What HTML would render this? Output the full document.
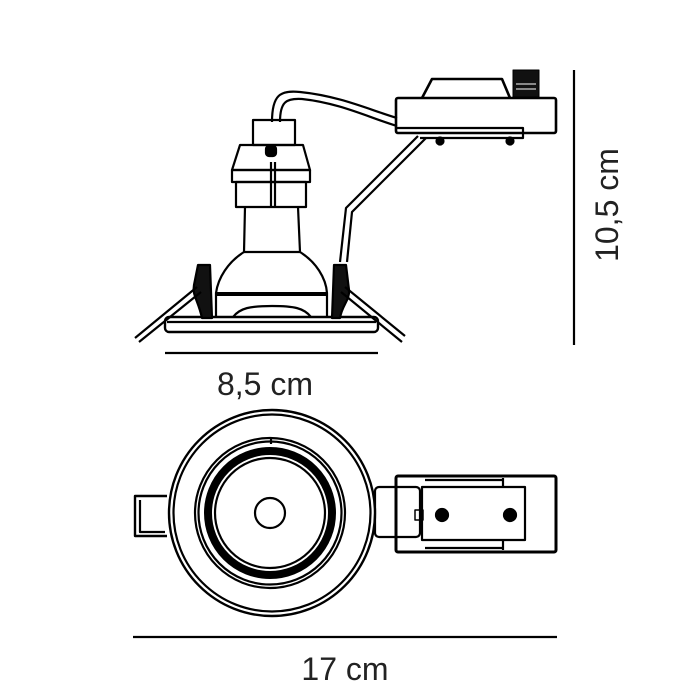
<!DOCTYPE html>
<html><head><meta charset="utf-8"><style>
html,body{margin:0;padding:0;background:#fff;}
svg{display:block;}
text{font-family:"Liberation Sans",sans-serif;fill:#222;}
</style></head><body>
<svg width="690" height="690" viewBox="0 0 690 690" xmlns="http://www.w3.org/2000/svg" fill="none" stroke="#000" stroke-width="2.2" stroke-linejoin="round">
<!-- TOP VIEW -->
<!-- wire -->
<path d="M272 122 C272 95 280 90 300 92 C340 96 370 110 397 118"/>
<path d="M280 122 C280 102 286 98 302 99 C340 103 370 118 397 126"/>
<!-- driver box -->
<rect x="396" y="98" width="160" height="35" rx="2" stroke-width="2.6"/>
<path d="M422 98 L432 79 L502 79 L510 98" stroke-width="2.6"/>
<rect x="513" y="70" width="26" height="27" fill="#111" stroke-width="1"/>
<line x1="516" y1="84" x2="536" y2="84" stroke="#fff" stroke-width="1"/>
<line x1="516" y1="89" x2="536" y2="89" stroke="#fff" stroke-width="1"/>
<path d="M397 128 L523 128 L523 138 L420 138"/>
<circle cx="440" cy="141" r="3.5" fill="#000"/>
<circle cx="510" cy="141" r="3.5" fill="#000"/>
<!-- bracket -->
<path d="M418 136 L346 208 L340 262"/>
<path d="M426 138 L352 212 L347 262"/>
<!-- socket -->
<rect x="253" y="120" width="42" height="25"/>
<rect x="266" y="146" width="10" height="10" rx="3" fill="#000"/>
<path d="M240 145 L303 145 L310 170 L232 170 Z"/>
<rect x="232" y="170" width="78" height="12"/>
<rect x="236" y="182" width="70" height="25"/>
<line x1="271" y1="162" x2="271" y2="207"/><line x1="275" y1="162" x2="275" y2="207"/>
<!-- neck -->
<path d="M245 207 L244 252 M298 207 L300 252"/>
<path d="M244 252 C228 262 218 278 216 293 L216 317 M300 252 C316 262 326 278 327 293 L327 317"/>
<line x1="244" y1="252" x2="300" y2="252"/>
<rect x="216" y="292" width="111" height="4" fill="#000" stroke="none"/>
<path d="M233 317 C240 308 250 306 272 306 C294 306 304 308 311 317"/>
<!-- flange -->
<rect x="165" y="317" width="213" height="15" rx="4" stroke-width="2.4"/>
<line x1="167" y1="322" x2="376" y2="322"/>
<!-- clips -->
<path d="M198 265 L210 265 L212 318 L202 318 C198 300 192 295 194 285 Z" fill="#111"/>
<path d="M334 265 L346 265 L349 290 C350 300 342 305 340 318 L332 318 Z" fill="#111"/>
<!-- spring arms -->
<path d="M197 287 L135 338 M201 292 L139 342"/>
<path d="M345 287 L405 336 M341 292 L402 342"/>
<!-- dimension lines -->
<line x1="165" y1="353" x2="378" y2="353"/>
<line x1="574" y1="70" x2="574" y2="345"/>
<text x="265" y="395" font-size="32" text-anchor="middle" stroke="none">8,5 cm</text>
<text transform="translate(618,205) rotate(-90)" font-size="32" text-anchor="middle" stroke="none">10,5 cm</text>
<!-- BOTTOM VIEW -->
<path d="M167 496 L135 496 L135 536 L167 536" stroke-width="2.4"/>
<path d="M140 500 L140 532 L165 532"/>
<rect x="375" y="487" width="45" height="50" rx="4"/>
<rect x="396" y="476" width="160" height="76" rx="2" stroke-width="3"/>
<rect x="422" y="487" width="103" height="53"/>
<line x1="425" y1="480" x2="503" y2="480"/><line x1="425" y1="548" x2="503" y2="548"/>
<line x1="503" y1="478" x2="503" y2="487"/><line x1="503" y1="540" x2="503" y2="550"/>
<circle cx="442" cy="515" r="6" fill="#000"/>
<circle cx="510" cy="515" r="6" fill="#000"/>
<rect x="415" y="510" width="8" height="10" stroke-width="1.5"/>
<circle cx="272" cy="513" r="103" fill="#fff" stroke-width="2.4"/>
<circle cx="272" cy="513" r="98.5"/>
<circle cx="270" cy="513" r="75"/>
<circle cx="270" cy="513" r="71.5"/>
<circle cx="270" cy="513" r="62" stroke-width="8"/>
<circle cx="270" cy="513" r="55"/>
<circle cx="270" cy="513" r="15"/>
<line x1="271" y1="438" x2="271" y2="444"/>
<line x1="133" y1="637" x2="557" y2="637"/>
<text x="345" y="680" font-size="32" text-anchor="middle" stroke="none">17 cm</text>
</svg>
</body></html>
